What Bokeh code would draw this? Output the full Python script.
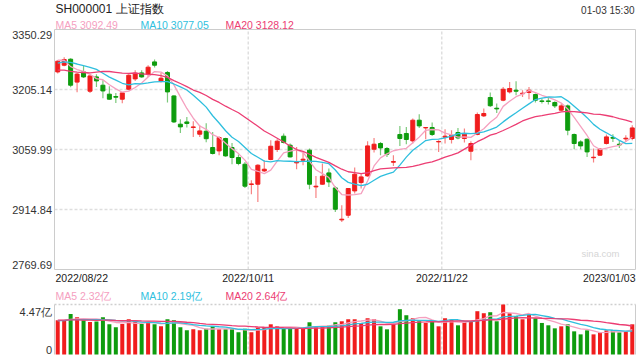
import numpy as np
from bokeh.plotting import figure
from bokeh.models import ColumnDataSource, Range1d
from bokeh.core.properties import value
from bokeh.embed import file_html
from bokeh.resources import INLINE

# ---------------- data ----------------
title_text = "SH000001 上证指数"
time_text = "01-03 15:30"
watermark = "sina.com"

opens = [3247.7, 3263.9, 3278.4, 3223.0, 3247.7, 3201.0, 3235.6, 3215.5, 3193.8, 3188.2,
         3181.7, 3205.8, 3230.8, 3245.3, 3242.1, 3271.9, 3225.9, 3246.3, 3189.6, 3121.2,
         3126.7, 3113.2, 3097.0, 3104.2, 3064.8, 3056.6, 3086.6, 3064.8, 3040.6, 3024.4,
         2975.3, 2976.0, 3008.2, 3035.8, 3060.0, 3092.2, 3070.4, 3027.6, 3034.1, 3058.3,
         2969.5, 2976.0, 3003.4, 2967.1, 2889.7, 2901.0, 2959.8, 2980.1, 2996.1, 3060.7,
         3074.5, 3062.4, 3029.2, 3096.3, 3098.7, 3080.8, 3130.9, 3112.2, 3113.2, 3078.4,
         3089.8, 3084.2, 3101.1, 3086.6, 3055.9, 3096.3, 3141.3, 3185.8, 3159.9, 3179.3,
         3199.3, 3203.4, 3195.0, 3197.9, 3193.0, 3177.6, 3177.6, 3173.7, 3155.1, 3165.5,
         3096.3, 3078.4, 3084.9, 3040.1, 3046.2, 3074.5, 3089.0, 3072.8, 3085.6, 3086.6]
highs = [3276.0, 3283.3, 3280.9, 3244.8, 3263.9, 3239.7, 3242.1, 3227.6, 3213.1, 3196.9,
         3199.3, 3242.1, 3251.8, 3251.8, 3263.9, 3277.7, 3245.3, 3250.1, 3191.3, 3133.3,
         3138.8, 3128.4, 3118.8, 3123.6, 3102.6, 3092.2, 3088.5, 3075.9, 3047.9, 3030.0,
         2985.7, 3024.4, 3034.1, 3082.5, 3084.9, 3098.7, 3074.5, 3066.3, 3052.7, 3062.4,
         2996.1, 3026.1, 3014.0, 2971.2, 2925.2, 2967.1, 3016.4, 3003.4, 3080.1, 3088.0,
         3078.4, 3066.3, 3046.2, 3117.1, 3114.7, 3135.0, 3145.4, 3114.7, 3125.3, 3082.5,
         3109.1, 3106.7, 3112.2, 3110.8, 3080.1, 3149.5, 3159.2, 3197.9, 3171.3, 3211.4,
         3223.5, 3225.2, 3203.4, 3211.4, 3195.5, 3183.4, 3187.2, 3176.8, 3171.3, 3168.9,
         3098.7, 3082.5, 3086.6, 3062.4, 3063.8, 3096.3, 3097.0, 3082.5, 3094.6, 3118.8]
lows = [3244.1, 3261.5, 3210.7, 3198.6, 3232.9, 3196.9, 3211.4, 3184.1, 3180.5, 3172.7,
        3172.0, 3203.4, 3225.9, 3233.7, 3235.6, 3258.3, 3222.1, 3173.7, 3124.3, 3100.1,
        3113.2, 3090.5, 3090.5, 3077.6, 3047.9, 3046.2, 3042.6, 3024.4, 3022.0, 2967.1,
        2951.8, 2933.2, 3005.8, 3034.1, 3054.2, 3074.5, 3040.6, 3012.3, 3022.0, 2963.9,
        2942.9, 2974.8, 2969.5, 2909.0, 2884.8, 2894.5, 2953.5, 2965.6, 2994.2, 3052.7,
        3046.2, 3042.1, 3020.3, 3068.7, 3072.8, 3074.5, 3112.2, 3084.9, 3092.9, 3054.2,
        3074.5, 3074.5, 3084.9, 3076.9, 3034.1, 3094.6, 3138.8, 3163.0, 3148.5, 3176.8,
        3195.5, 3191.3, 3187.2, 3181.7, 3173.7, 3171.3, 3168.9, 3160.6, 3152.6, 3094.6,
        3060.7, 3060.7, 3042.1, 3028.5, 3045.0, 3072.1, 3078.4, 3063.8, 3078.4, 3082.5]
closes = [3273.6, 3277.7, 3215.5, 3242.4, 3235.6, 3238.0, 3225.9, 3201.7, 3181.7, 3186.5,
          3196.9, 3239.7, 3244.6, 3235.6, 3259.1, 3263.9, 3232.5, 3199.3, 3126.7, 3114.7,
          3122.9, 3114.7, 3105.0, 3086.1, 3050.3, 3089.0, 3044.5, 3040.6, 3026.1, 2971.2,
          2976.8, 3022.0, 3012.3, 3067.9, 3080.1, 3076.9, 3042.1, 3029.2, 3036.5, 2976.0,
          2971.2, 2995.4, 2981.6, 2915.5, 2891.4, 2965.6, 3000.2, 2993.7, 3068.7, 3072.8,
          3063.8, 3048.6, 3030.9, 3086.6, 3084.2, 3130.9, 3117.1, 3113.2, 3096.3, 3079.4,
          3092.2, 3094.6, 3088.0, 3097.0, 3074.5, 3144.6, 3147.1, 3165.9, 3158.2, 3205.8,
          3207.5, 3201.0, 3196.2, 3203.4, 3179.3, 3176.1, 3176.1, 3165.5, 3165.5, 3106.7,
          3074.5, 3068.7, 3054.2, 3041.3, 3060.7, 3090.5, 3087.3, 3071.1, 3087.3, 3112.2]
# volume, 亿
volumes = [3.06, 3.00, 3.63, 3.33, 3.06, 2.91, 2.94, 3.33, 2.70, 2.43,
           2.73, 3.15, 2.91, 2.73, 2.82, 2.70, 2.52, 3.15, 3.06, 2.43,
           2.16, 2.25, 2.16, 2.31, 2.52, 2.25, 2.25, 2.25, 1.98, 2.31,
           1.98, 2.40, 2.46, 2.70, 2.52, 2.31, 2.31, 2.37, 2.43, 2.88,
           2.43, 2.52, 2.58, 2.88, 2.97, 3.15, 3.15, 2.82, 3.24, 3.15,
           2.52, 2.25, 2.70, 4.05, 3.51, 3.24, 2.97, 2.82, 2.97, 2.52,
           3.24, 3.12, 2.61, 2.91, 2.97, 3.87, 3.69, 3.78, 2.97, 4.47,
           3.69, 3.42, 3.15, 3.60, 3.24, 2.82, 2.61, 2.34, 2.52, 2.70,
           2.07, 1.80, 2.16, 1.80, 1.98, 2.16, 2.16, 1.98, 2.07, 2.70]
# sessions before 2022/08/22, needed for the moving averages at the left edge
prior_closes = [3277.4, 3275.8, 3282.6, 3253.2, 3260.0, 3186.3, 3163.7, 3189.0, 3227.0, 3236.9,
                3247.4, 3230.0, 3281.7, 3276.9, 3276.1, 3277.9, 3292.5, 3277.5, 3258.1]
prior_volumes = [3.1, 3.2, 3.4, 3.5, 3.0, 3.2, 2.8, 2.9, 3.0, 3.2,
                 2.9, 2.8, 3.3, 3.1, 3.0, 2.8, 3.3, 3.1, 2.9]

price_ticks = [3350.29, 3205.14, 3059.99, 2914.84, 2769.69]
vol_max = 4.47
vol_tick_labels = ["4.47亿", "0"]
date_labels = ["2022/08/22", "2022/10/11", "2022/11/22", "2023/01/03"]
date_index = [0, 30, 60, 89]
ma_periods = [5, 10, 20]
ma_legend = ["MA5 3092.49", "MA10 3077.05", "MA20 3128.12"]
vol_ma_legend = ["MA5 2.32亿", "MA10 2.19亿", "MA20 2.64亿"]

# ---------------- styles / layout ----------------
RED = "#f01d1d"
GREEN = "#0e9c0e"
MA_COLORS = ["#f5a0bf", "#2fbfde", "#ec3d73"]
FONT = value("Liberation Sans")
W, H = 640, 360
N = len(closes)
L, R = 54, 635          # frame left/right (canvas px)
T, B = 29, 269          # price panel top/bottom
VT, VB = 304, 354       # volume panel top/bottom
slot = (R - L) / N
PMAX, PMIN = price_ticks[0], price_ticks[-1]


def cx2x(cx):
    return -0.5 + (cx - L) / slot


def cy2p(cy):
    return PMAX - (cy - T) * (PMAX - PMIN) / (B - T)


def cy2v(cy):
    return vol_max * (VB - cy) / (VB - VT)


p = figure(width=W, height=H, output_backend="svg", toolbar_location=None,
           x_range=Range1d(cx2x(0), cx2x(W)), y_range=Range1d(cy2p(H), cy2p(0)),
           x_axis_location=None, y_axis_location=None, min_border=0)
p.extra_y_ranges = {"vol": Range1d(cy2v(H), cy2v(0))}
p.grid.visible = False
p.outline_line_color = None
p.background_fill_color = "white"
p.border_fill_color = "white"

x0e, x1e = -0.5, N - 0.5
idx = np.arange(N)
o = np.array(opens); c = np.array(closes)
colors = [RED if cc >= oo else GREEN for oo, cc in zip(opens, closes)]

# grid + frames
p.segment(x0=[x0e] * 3, y0=price_ticks[1:4], x1=[x1e] * 3, y1=price_ticks[1:4],
          line_color="#dedede", line_width=1.6, line_dash="3 2")
grid_x = [date_index[1] - 0.5, date_index[2] - 0.5]
p.segment(x0=grid_x, y0=[PMIN] * 2, x1=grid_x, y1=[PMAX] * 2,
          line_color="#cfcfcf", line_width=1, line_dash="3 2")
p.segment(x0=grid_x, y0=[0] * 2, x1=grid_x, y1=[vol_max] * 2, y_range_name="vol",
          line_color="#cfcfcf", line_width=1, line_dash="3 2")
p.quad(left=[x0e], right=[x1e], top=[PMAX], bottom=[PMIN], fill_color=None,
       line_color="#cccccc", line_width=1)
p.segment(x0=[x0e], y0=[vol_max], x1=[x1e], y1=[vol_max], y_range_name="vol",
          line_color="#cfcfcf", line_width=1.4, line_dash="2 2")
p.segment(x0=[x0e, x1e], y0=[0, 0], x1=[x0e, x1e], y1=[vol_max, vol_max], y_range_name="vol",
          line_color="#cccccc", line_width=1)

# candles
src = ColumnDataSource(dict(x=idx, o=o, c=c, h=highs, l=lows,
                            top=np.maximum(o, c), bot=np.minimum(o, c),
                            v=volumes, col=colors))
p.segment(x0="x", y0="l", x1="x", y1="h", source=src, line_color="col", line_alpha=0.55, line_width=1.2)
p.vbar(x="x", width=0.62, top="top", bottom="bot", source=src,
       fill_color="col", line_color="col", line_width=1)
p.vbar(x="x", width=0.62, top="v", bottom=0, source=src, y_range_name="vol",
       fill_color="col", line_color=None)

# moving averages
allc = np.array(prior_closes + closes)
allv = np.array(prior_volumes + volumes)
for n, col in zip(ma_periods, MA_COLORS):
    mc = np.convolve(allc, np.ones(n) / n, mode="valid")[-N:]
    mv = np.convolve(allv, np.ones(n) / n, mode="valid")[-N:]
    p.line(idx, mc, line_color=col, line_width=1.3)
    p.line(idx, mv, line_color=col, line_width=1.3, y_range_name="vol")

# texts
def txt(x, y, s, size, color, align="left", baseline="middle", yoff=0, rng="default", xoff=0):
    p.text(x=[x], y=[y], text=[s], text_font=FONT, text_font_size=size, text_color=color,
           text_align=align, text_baseline=baseline, y_offset=yoff, x_offset=xoff,
           y_range_name=rng)

txt(cx2x(55), cy2p(8), title_text, "12px", "#222222")
txt(cx2x(634), cy2p(9.5), time_text, "10px", "#333333", align="right")
for s, cx, col in zip(ma_legend, [55, 140, 225], MA_COLORS):
    txt(cx2x(cx), cy2p(24), s, "10.5px", col)
for s, cx, col in zip(vol_ma_legend, [55, 140, 225], MA_COLORS):
    txt(cx2x(cx), cy2p(295), s, "10.5px", col)

lab_x = cx2x(51.5)
for k, t in enumerate(price_ticks):
    if k == 0:
        txt(lab_x, t, f"{t:.2f}", "11px", "#333333", align="right", baseline="top", yoff=1)
    elif k == len(price_ticks) - 1:
        txt(lab_x, t, f"{t:.2f}", "11px", "#333333", align="right", baseline="bottom", yoff=-1)
    else:
        txt(lab_x, t, f"{t:.2f}", "11px", "#333333", align="right")
txt(lab_x, vol_max, vol_tick_labels[0], "11px", "#333333", align="right", baseline="top", yoff=1, rng="vol")
txt(lab_x, 0, vol_tick_labels[1], "11px", "#333333", align="right", baseline="bottom", yoff=-1, rng="vol")

xl_y = cy2p(277.5)
aligns = ["left", "center", "center", "right"]
for s, i, a in zip(date_labels, date_index, aligns):
    xx = i + 0.5 if a == "right" else i - 0.5
    txt(xx, xl_y, s, "10.5px", "#222222", align=a, xoff=1 if a == "left" else 0)

txt(cx2x(619), cy2p(253), watermark, "9.5px", "#d5d5d5", align="right")

open("out.html", "w").write(file_html(p, INLINE))
